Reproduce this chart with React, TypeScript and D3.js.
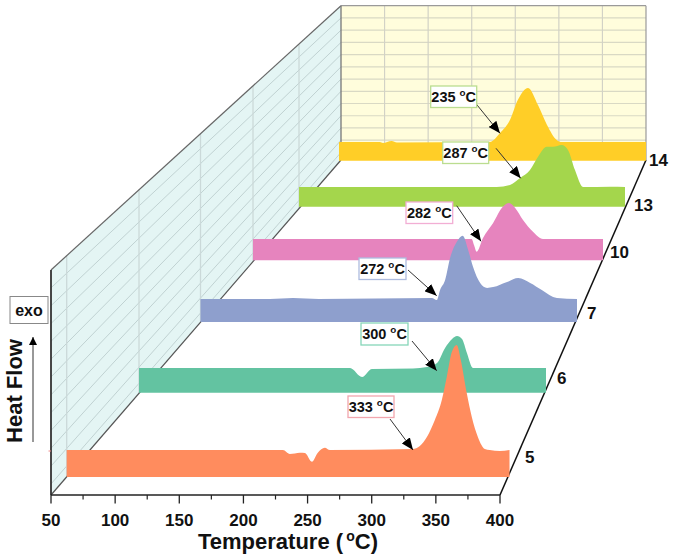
import React from "react";
import * as d3 from "d3";

const xTicks = [50, 100, 150, 200, 250, 300, 350, 400];
const xMinorTicks = [75, 125, 175, 225, 275, 325, 375];
const wallLevels = [0, 1, 2, 3, 4, 5, 6, 7, 8, 9, 10, 11, 12];

const t5 = [50, 220.9, 226.4, 234.3, 238.3, 243.8, 248.5, 254, 258, 323.6, 334.7, 341, 346.5, 350.4, 354.4, 358.3, 361.5, 366.2, 370.2, 375, 380.5, 384.4, 392.3, 400];
const v5 = [0, 0, -4, -2.7, -3, -11.7, -2.7, 2.3, 0, 1, 13, 30, 50, 73, 98, 105, 90, 57, 33, 13, 1, 0, -1, 0];
const t6 = [50, 231.5, 241.8, 250.4, 285.6, 297.7, 306.3, 313.2, 319.2, 323.5, 327.8, 332, 337.2, 400];
const v6 = [0, 0, -9.8, -1, -0.5, 1, 5.4, 21.8, 31.6, 34.8, 31.6, 16.3, 0, 0];
const t7 = [50, 114.6, 136, 160, 265, 269.7, 272.7, 277.4, 282, 288.3, 293.8, 298.8, 303.4, 310, 316.4, 322, 335, 345.4, 356.5, 367.3, 381.3, 400];
const v7 = [0, 0, 1.2, 0, 1.2, -1.2, 10.6, 22.4, 48.3, 67.4, 74.5, 57.7, 37.7, 18.8, 13, 14, 20, 24.7, 18.8, 10.6, 1.2, 0];
const t10 = [50, 268.7, 271, 273.7, 280, 290, 300, 306, 312, 320, 330, 340, 400];
const v10 = [0, 0, -7.6, -16, 1.3, 20, 41, 45.6, 39.5, 24, 9.2, 0, 0];
const t13 = [50, 262.2, 276.5, 287.3, 298, 306.6, 316, 322.7, 332, 338.8, 346.3, 355, 384, 400];
const v13 = [0, 0, 2.7, 12.2, 23, 41, 54.6, 54.6, 57, 50.3, 23, 0, 0.4, 0];
const t14 = [50, 96.7, 100, 110, 116, 222, 233.5, 245, 254, 265.5, 277, 287, 298.2, 304, 400];
const v14 = [0, 0, -1.4, 1.4, -0.7, 0, 13, 32, 61, 78, 53, 25, 3, 0, 0];

const seriesNames = ["5", "6", "7", "10", "13", "14"];
const seriesTemps = [t5, t6, t7, t10, t13, t14];
const seriesValues = [v5, v6, v7, v10, v13, v14];
const seriesColors = ["#FF8C5E", "#63C3A1", "#8E9FCD", "#E684BE", "#A4D64C", "#FFCE27"];

const annotationLabels = ["333", "300", "272", "282", "287", "235"];
const annotationColors = ["#F2A6AE", "#86D6B9", "#AEBCDF", "#F2AED4", "#BBDD90", "#BBDD90"];

// layout of the pseudo-3D box
const starts = [66.7, 139, 200.5, 253, 299, 339];
const ends = [509.5, 546, 577, 603, 625, 646];
const bases = [450, 368, 299, 239, 187, 142];
const labelX = [525, 557, 587, 610, 634, 649];
const labelY = [456, 377, 312, 251, 204, 159];
const bandDepth = 27;
const boxes = [
  [348, 396, 46, 21.5, 390, 419, 413, 450],
  [361, 323, 47, 22, 412, 341, 436.7, 370.7],
  [359, 258, 47, 21.5, 408, 270, 436.7, 295.7],
  [406, 202, 46.7, 21.5, 456.7, 205.7, 481, 241.3],
  [442.7, 142, 46, 21.5, 496, 148.3, 520.7, 178.3],
  [430.7, 86, 46, 21.5, 475.7, 103.3, 500, 133.3],
];

const front = { left: 51, right: 500, top: 270, bottom: 495 };
const back = { left: 341, right: 646, top: 5.7, bottom: 160 };
const levelCount = 12.62;

const xFront = d3.scaleLinear().domain([50, 400]).range([front.left, front.right]);
const xBack = d3.scaleLinear().domain([50, 400]).range([back.left, back.right]);
const yFront = d3.scaleLinear().domain([0, levelCount]).range([front.top, front.bottom]);
const yBack = d3.scaleLinear().domain([0, levelCount]).range([back.top, back.bottom]);

const font = "'Liberation Sans', Arial, sans-serif";

function Deg({ x, y, size, value }: { x: number; y: number; size: number; value: string }) {
  return (
    <text x={x} y={y} textAnchor="middle" fontFamily={font} fontWeight="bold" fontSize={size} fill="#111">
      {value + " "}
      <tspan fontSize={size * 0.68} dy={-size * 0.38}>o</tspan>
      <tspan dy={size * 0.38}>C</tspan>
    </text>
  );
}

export default function App() {
  const bands = seriesNames.map((_, i) => {
    const width = ends[i] - starts[i];
    const x = d3.scaleLinear().domain([50, 400]).range([starts[i], ends[i]]);
    const y = d3.scaleLinear().domain([0, 100]).range([bases[i], bases[i] - (100 * width) / 443]);
    const points = seriesTemps[i].map((t, j) => [t, seriesValues[i][j]] as [number, number]);
    const area = d3
      .area<[number, number]>()
      .x((d) => x(d[0]))
      .y0(y(-bandDepth))
      .y1((d) => y(d[1]))
      .curve(d3.curveMonotoneX);
    return area(points) as string;
  });

  return (
    <svg width={674} height={560} style={{ position: "absolute", left: 0, top: 0, display: "block", background: "#fff" }}>
      <defs>
        <marker id="ah" viewBox="0 0 12 10" refX="12" refY="5" markerWidth="12" markerHeight="10" markerUnits="userSpaceOnUse" orient="auto">
          <path d="M0,0L12,5L0,10Z" fill="#000" />
        </marker>
        <marker id="ah2" viewBox="0 0 8 8" refX="8" refY="4" markerWidth="8" markerHeight="8" markerUnits="userSpaceOnUse" orient="auto">
          <path d="M0,0L8,4L0,8Z" fill="#000" />
        </marker>
      </defs>

      {/* walls */}
      <polygon
        points={`${front.left},${front.top} ${back.left},${back.top} ${back.left},${back.bottom} ${front.left},${front.bottom}`}
        fill="#E4F5F4"
      />
      <rect x={back.left} y={back.top} width={back.right - back.left} height={back.bottom - back.top} fill="#FFFDDC" />

      {/* back-wall grid */}
      {wallLevels.slice(1).map((l) => (
        <line key={l} x1={back.left} x2={back.right} y1={yBack(l)} y2={yBack(l)} stroke="#D9D9C4" strokeWidth={1.2} />
      ))}
      {xTicks.slice(1, -1).map((t) => (
        <line key={t} x1={xBack(t)} x2={xBack(t)} y1={back.top} y2={back.bottom} stroke="#D2D2C6" strokeWidth={1.2} />
      ))}

      {/* side-wall grid */}
      {wallLevels.slice(1).map((l) => (
        <line key={l} x1={front.left} x2={back.left} y1={yFront(l)} y2={yBack(l)} stroke="#C0D2D2" strokeWidth={1} />
      ))}
      {starts.slice(0, 5).map((s) => {
        const f = (s - front.left) / (back.left - front.left);
        return (
          <line
            key={s}
            x1={s}
            x2={s}
            y1={front.top + f * (back.top - front.top)}
            y2={front.bottom + f * (back.bottom - front.bottom)}
            stroke="#CBD9D9"
            strokeWidth={1.3}
          />
        );
      })}

      {/* box edges */}
      <line x1={front.left} y1={front.top} x2={back.left} y2={back.top} stroke="#666" strokeWidth={1.2} />
      <line x1={front.left} y1={front.bottom} x2={back.left} y2={back.bottom} stroke="#555" strokeWidth={1.2} />
      <line x1={back.left} y1={back.top} x2={back.right} y2={back.top} stroke="#9A9A9A" strokeWidth={1.2} />
      <line x1={back.right} y1={back.top} x2={back.right} y2={back.bottom} stroke="#9A9A9A" strokeWidth={1.2} />
      <line x1={back.left} y1={back.top} x2={back.left} y2={back.bottom} stroke="#777" strokeWidth={1.3} />
      <line x1={front.right} y1={front.bottom} x2={back.right} y2={back.bottom} stroke="#111" strokeWidth={1.5} />
      <line x1={front.left} y1={front.top} x2={front.left} y2={front.bottom} stroke="#333" strokeWidth={1.8} />
      <line x1={48.5} x2={51} y1={451} y2={451} stroke="#E88" strokeWidth={1} />

      {/* x axis */}
      <line x1={front.left} x2={front.right} y1={front.bottom} y2={front.bottom} stroke="#222" strokeWidth={1.6} />
      {xTicks.map((t) => (
        <g key={t}>
          <line x1={xFront(t)} x2={xFront(t)} y1={front.bottom} y2={front.bottom + 8.5} stroke="#222" strokeWidth={1.3} />
          <text x={xFront(t)} y={526} textAnchor="middle" fontFamily={font} fontWeight="bold" fontSize={17} fill="#111">
            {t}
          </text>
        </g>
      ))}
      {xMinorTicks.map((t) => (
        <line key={t} x1={xFront(t)} x2={xFront(t)} y1={front.bottom} y2={front.bottom + 4.5} stroke="#222" strokeWidth={1.2} />
      ))}
      <text x={198} y={549} fontFamily={font} fontWeight="bold" fontSize={22} fill="#111">
        Temperature (
      </text>
      <text x={378} y={549} textAnchor="end" fontFamily={font} fontWeight="bold" fontSize={22} fill="#111">
        <tspan fontSize={14} dy={-8}>o</tspan>
        <tspan dy={8}>C)</tspan>
      </text>

      {/* y label */}
      <text
        transform="translate(21.5,391) rotate(-90)"
        textAnchor="middle"
        fontFamily={font}
        fontWeight="bold"
        fontSize={22}
        fill="#111"
      >
        Heat Flow
      </text>
      <line x1={33} y1={442} x2={33} y2={337} stroke="#333" strokeWidth={1} markerEnd="url(#ah2)" />
      <rect x={10} y={296.5} width={38} height={27} fill="#fff" stroke="#888" strokeWidth={1} />
      <text x={29} y={316} textAnchor="middle" fontFamily={font} fontWeight="bold" fontSize={16} fill="#111">
        exo
      </text>

      {/* bands, back to front */}
      {seriesNames
        .map((_, i) => i)
        .reverse()
        .map((i) => (
          <path key={i} d={bands[i]} fill={seriesColors[i]} />
        ))}

      {/* series labels */}
      {seriesNames.map((n, i) => (
        <text key={n} x={labelX[i]} y={labelY[i] + 6.5} fontFamily={font} fontWeight="bold" fontSize={17} fill="#111">
          {n}
        </text>
      ))}

      {/* annotations */}
      {annotationLabels.map((a, i) => {
        const [bx, by, bw, bh, x1, y1, x2, y2] = boxes[i];
        return (
          <g key={a}>
            <line x1={x1} y1={y1} x2={x2} y2={y2} stroke="#333" strokeWidth={1} markerEnd="url(#ah)" />
            <rect x={bx} y={by} width={bw} height={bh} fill="#fff" stroke={annotationColors[i]} strokeWidth={1.3} />
            <Deg x={bx + bw / 2} y={by + bh / 2 + 5} size={14.5} value={a} />
          </g>
        );
      })}
    </svg>
  );
}
